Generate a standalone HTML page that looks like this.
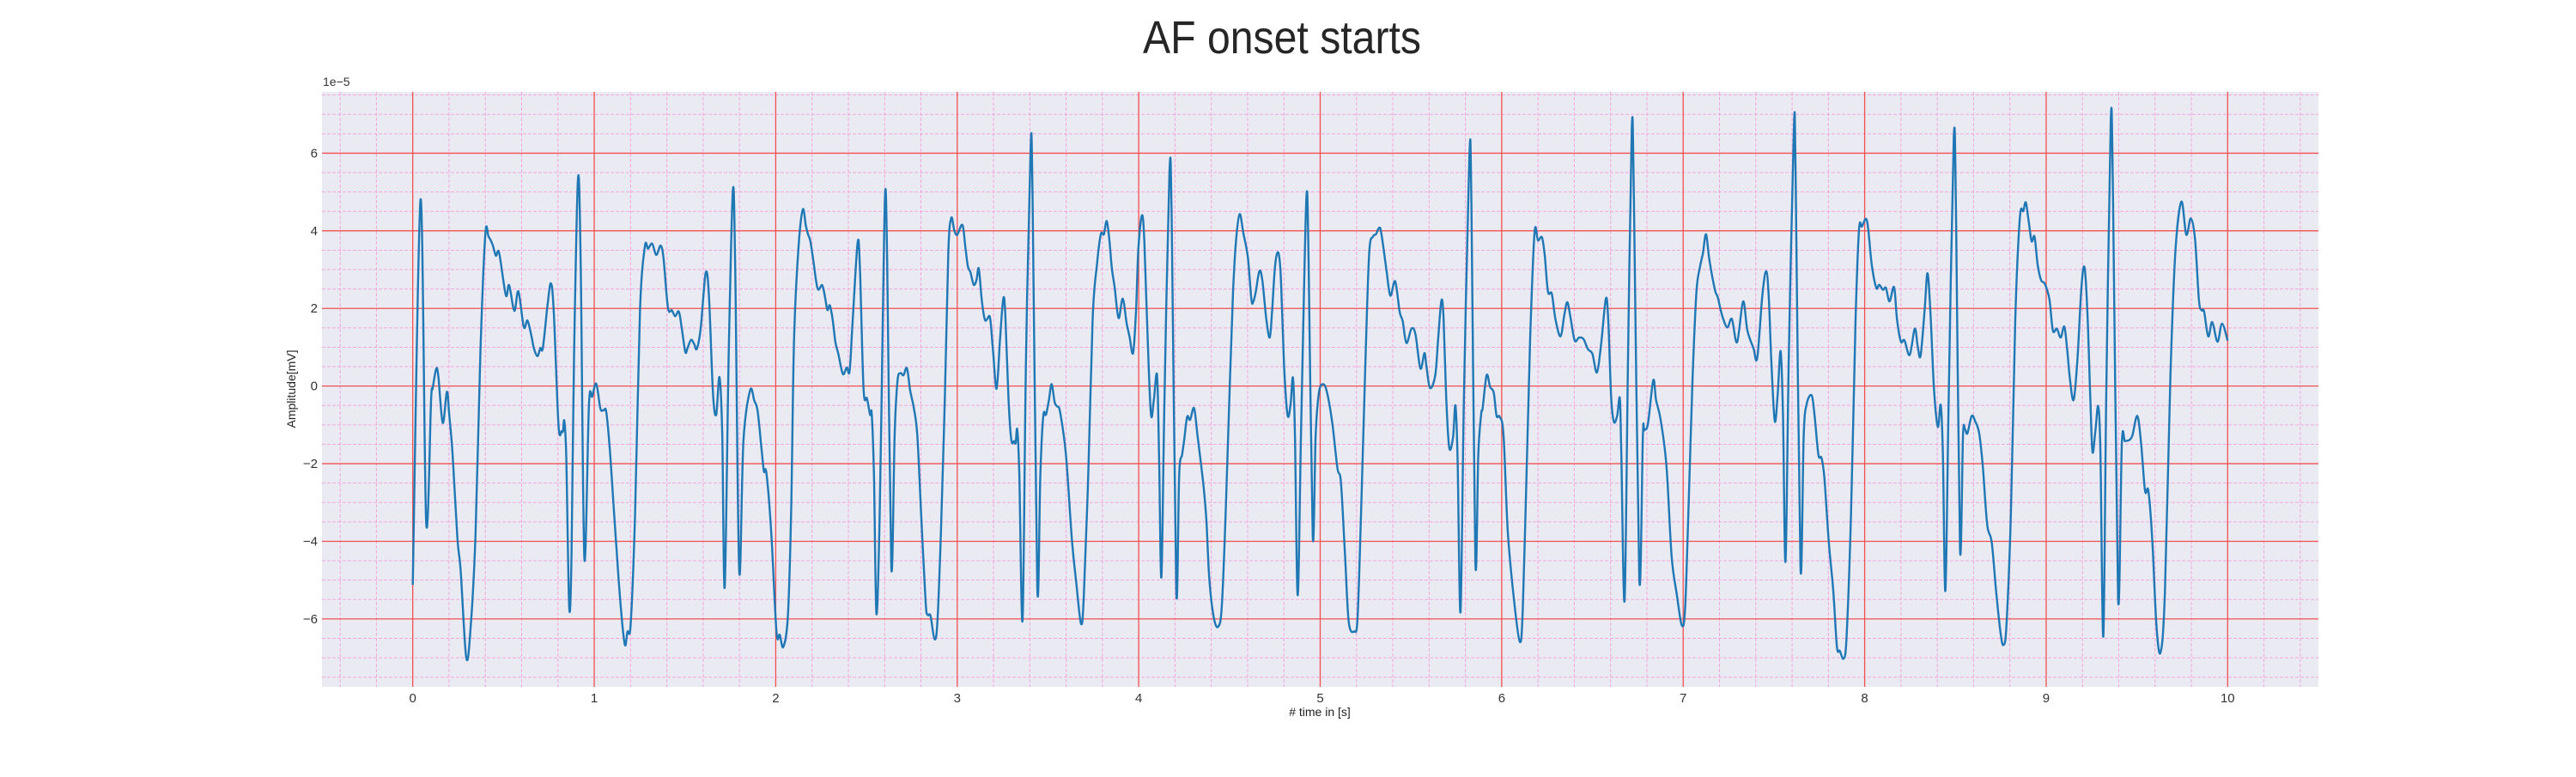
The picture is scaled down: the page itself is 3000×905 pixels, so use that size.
<!DOCTYPE html>
<html><head><meta charset="utf-8">
<style>
html,body{margin:0;padding:0;background:#fff;}
body{width:3000px;height:900px;overflow:hidden;font-family:"Liberation Sans",sans-serif;}
svg text{font-family:"Liberation Sans",sans-serif;}
</style></head>
<body>
<svg id="chart" width="3000" height="900" xmlns="http://www.w3.org/2000/svg">
<text x="1493" y="62" text-anchor="middle" font-size="54" textLength="324" lengthAdjust="spacingAndGlyphs" fill="#262626">AF onset starts</text>
<rect x="375" y="107" width="2325" height="693" fill="#eaeaf2"/>
<g id="grid"></g>
<g id="ticks"></g>
<g id="series"></g>
<text x="376" y="100" font-size="14" fill="#333">1e−5</text>
<text x="1537" y="834" text-anchor="middle" font-size="14" fill="#222"># time in [s]</text>
<text x="0" y="0" transform="translate(344,453) rotate(-90)" text-anchor="middle" font-size="14" fill="#222">Amplitude[mV]</text>
</svg>
<script>
const xTicks=[0,1,2,3,4,5,6,7,8,9,10];
const yTicks=[-6,-4,-2,0,2,4,6];
const times=[0,0.043,0.074,0.101,0.11,0.129,0.141,0.165,0.188,0.2,0.219,0.246,0.264,0.295,0.319,0.346,0.373,0.4,0.418,0.44,0.458,0.476,0.513,0.531,0.56,0.582,0.612,0.632,0.654,0.667,0.687,0.703,0.717,0.741,0.761,0.777,0.803,0.821,0.828,0.835,0.846,0.862,0.875,0.889,0.911,0.926,0.946,0.971,0.989,1.011,1.034,1.053,1.067,1.089,1.134,1.167,1.183,1.201,1.225,1.252,1.279,1.297,1.319,1.342,1.366,1.382,1.406,1.428,1.446,1.466,1.482,1.502,1.514,1.533,1.55,1.565,1.587,1.614,1.632,1.654,1.672,1.69,1.705,1.719,1.741,1.764,1.777,1.799,1.822,1.859,1.882,1.9,1.922,1.935,1.949,1.976,2.004,2.022,2.042,2.067,2.085,2.101,2.125,2.149,2.166,2.178,2.191,2.207,2.231,2.256,2.272,2.285,2.298,2.313,2.329,2.345,2.37,2.391,2.407,2.422,2.451,2.464,2.484,2.503,2.52,2.529,2.541,2.555,2.573,2.59,2.603,2.614,2.637,2.655,2.671,2.687,2.704,2.723,2.741,2.761,2.78,2.801,2.826,2.837,2.853,2.875,2.891,2.91,2.932,2.951,2.967,2.984,3.0,3.029,3.046,3.059,3.073,3.091,3.106,3.119,3.135,3.151,3.163,3.181,3.197,3.217,3.236,3.254,3.265,3.282,3.298,3.314,3.322,3.331,3.342,3.36,3.379,3.404,3.415,3.441,3.458,3.474,3.489,3.505,3.52,3.537,3.55,3.567,3.599,3.632,3.656,3.682,3.697,3.722,3.746,3.77,3.791,3.808,3.824,3.839,3.852,3.868,3.889,3.912,3.933,3.949,3.969,3.985,3.998,4.018,4.031,4.047,4.067,4.083,4.101,4.112,4.125,4.142,4.169,4.182,4.207,4.223,4.239,4.251,4.267,4.283,4.305,4.324,4.357,4.373,4.389,4.414,4.438,4.458,4.479,4.503,4.52,4.536,4.556,4.577,4.601,4.621,4.632,4.645,4.665,4.681,4.703,4.722,4.735,4.752,4.77,4.784,4.801,4.82,4.837,4.85,4.861,4.876,4.894,4.912,4.926,4.936,4.959,4.975,4.993,5.016,5.038,5.067,5.095,5.114,5.136,5.157,5.188,5.206,5.225,5.25,5.27,5.291,5.307,5.325,5.337,5.364,5.386,5.413,5.438,5.454,5.475,5.503,5.525,5.552,5.574,5.585,5.605,5.634,5.65,5.668,5.68,5.694,5.711,5.732,5.745,5.757,5.773,5.792,5.822,5.833,5.855,5.871,5.887,5.895,5.917,5.936,5.956,5.972,5.989,6.01,6.034,6.067,6.1,6.116,6.137,6.157,6.181,6.2,6.222,6.238,6.255,6.276,6.296,6.324,6.345,6.361,6.377,6.402,6.426,6.451,6.475,6.5,6.525,6.549,6.574,6.587,6.603,6.618,6.636,6.651,6.659,6.677,6.696,6.717,6.729,6.758,6.778,6.786,6.806,6.835,6.851,6.876,6.908,6.936,6.965,6.993,7.011,7.031,7.052,7.073,7.093,7.109,7.126,7.145,7.175,7.191,7.215,7.243,7.268,7.297,7.33,7.354,7.387,7.408,7.436,7.457,7.471,7.485,7.504,7.52,7.537,7.55,7.564,7.582,7.61,7.62,7.646,7.664,7.68,7.708,7.724,7.745,7.762,7.778,7.803,7.827,7.847,7.863,7.884,7.9,7.925,7.95,7.969,7.985,8.007,8.02,8.039,8.064,8.08,8.101,8.117,8.137,8.162,8.178,8.199,8.219,8.248,8.276,8.292,8.308,8.33,8.346,8.362,8.382,8.403,8.419,8.431,8.445,8.463,8.491,8.504,8.525,8.542,8.553,8.566,8.59,8.61,8.631,8.651,8.675,8.7,8.724,8.749,8.765,8.781,8.806,8.83,8.855,8.874,8.888,8.904,8.92,8.936,8.953,8.972,8.993,9.018,9.037,9.059,9.08,9.1,9.116,9.132,9.152,9.173,9.194,9.211,9.227,9.243,9.255,9.271,9.287,9.299,9.315,9.331,9.356,9.369,9.396,9.417,9.434,9.458,9.475,9.502,9.523,9.545,9.563,9.585,9.607,9.63,9.654,9.685,9.712,9.745,9.772,9.797,9.82,9.842,9.857,9.87,9.893,9.915,9.944,9.969,10.0];
const amps=[-5.12,4.81,-3.51,-0.38,-0.06,0.44,0.25,-0.95,-0.15,-0.69,-1.73,-3.92,-4.76,-7.0,-6.22,-3.82,0.88,3.9,3.85,3.64,3.36,3.43,2.34,2.6,1.94,2.44,1.52,1.69,1.29,0.98,0.77,0.98,0.98,2.02,2.65,1.92,-1.0,-1.16,-1.16,-0.9,-1.84,-5.7,-4.34,0.88,5.37,2.96,-4.45,-0.48,-0.27,0.06,-0.58,-0.62,-0.69,-1.84,-4.97,-6.62,-6.33,-6.12,-3.3,1.92,3.59,3.54,3.67,3.38,3.62,3.28,2.02,1.95,1.8,1.92,1.5,0.88,0.98,1.19,1.09,0.96,1.5,2.91,2.34,-0.17,-0.74,0.23,-1.21,-5.18,0.88,5.05,2.96,-4.76,-1.42,-0.11,-0.38,-0.64,-1.63,-2.2,-2.25,-3.82,-6.33,-6.41,-6.72,-5.91,-3.2,1.23,3.53,4.55,4.13,3.91,3.73,3.23,2.51,2.6,2.28,1.96,2.08,1.73,1.13,0.83,0.31,0.48,0.38,1.53,3.68,3.03,-0.07,-0.32,-0.74,-0.72,-2.27,-5.87,-3.27,1.73,5.01,3.23,-4.67,-1.27,0.13,0.33,0.28,0.46,-0.12,-0.57,-1.27,-3.27,-5.57,-5.89,-5.92,-6.52,-6.07,-3.77,-0.27,3.43,4.33,4.01,3.9,4.15,3.53,3.08,2.93,2.61,2.73,3.03,2.23,1.73,1.71,1.76,0.93,-0.07,1.23,2.26,1.83,-0.27,-1.39,-1.42,-1.47,-1.12,-2.27,-6.02,0.73,6.08,4.93,-5.17,-2.27,-0.77,-0.74,-0.37,0.05,-0.42,-0.52,-0.67,-1.77,-3.97,-5.07,-6.12,-5.47,-2.27,1.73,3.13,3.91,3.91,4.25,3.73,3.03,2.53,1.75,2.25,1.63,1.28,0.85,1.93,3.53,4.4,3.73,1.53,-0.7,-0.37,0.28,-1.77,-4.92,-0.27,5.48,4.23,-5.27,-2.27,-1.77,-1.37,-0.79,-0.87,-0.57,-1.27,-2.57,-3.47,-4.97,-5.97,-6.2,-5.67,-3.27,0.23,2.43,3.73,4.43,3.93,3.33,2.23,2.18,2.43,2.96,2.73,1.73,1.25,1.93,3.13,3.43,2.73,0.53,-0.75,-0.47,0.21,-1.27,-5.39,-1.27,2.73,5.01,3.23,-3.87,-1.27,-0.17,0.05,-0.17,-0.97,-2.12,-2.47,-4.27,-6.07,-6.32,-5.97,-3.27,0.73,3.43,3.85,3.91,4.08,3.93,3.03,2.33,2.7,1.91,1.68,1.11,1.48,1.33,0.45,0.85,0.53,-0.05,0.28,1.23,2.21,1.73,-0.27,-1.59,-1.32,-0.5,-1.87,-5.82,-0.27,5.9,4.73,-4.52,-1.77,-0.72,-0.57,0.28,-0.02,-0.17,-0.77,-0.79,-1.27,-3.77,-5.47,-6.59,-5.77,-2.27,1.23,3.95,3.75,3.83,3.33,2.43,2.38,1.73,1.28,1.83,2.16,1.83,1.18,1.25,1.21,0.95,0.83,0.35,1.13,2.25,1.73,-0.27,-0.92,-0.77,-0.32,-1.77,-5.52,0.73,6.68,4.73,-4.97,-1.27,-1.14,-0.97,0.15,-0.37,-0.87,-2.07,-4.37,-5.37,-6.17,-5.67,-2.9,0.23,2.43,3.08,3.43,3.91,3.23,2.48,2.28,1.81,1.51,1.73,1.13,2.18,1.43,0.98,0.73,2.33,2.96,2.33,0.73,-0.89,-0.27,0.9,-0.77,-4.52,0.73,6.68,5.23,-4.64,-1.27,-0.47,-0.24,-0.77,-1.77,-1.85,-2.37,-4.07,-5.27,-6.72,-6.82,-7.02,-6.47,-3.27,1.73,4.03,4.11,4.31,4.03,3.13,2.53,2.61,2.48,2.53,2.18,2.55,1.73,1.15,1.18,0.8,1.48,1.03,0.78,1.93,2.91,1.93,-0.07,-1.05,-0.49,-1.77,-5.27,-0.27,6.43,4.23,-4.19,-1.27,-1.12,-1.22,-0.77,-0.92,-1.22,-2.07,-3.57,-4.02,-5.27,-6.37,-6.67,-6.17,-3.27,1.73,4.33,4.51,4.73,4.23,3.73,3.85,3.13,2.73,2.63,2.23,1.43,1.48,1.25,1.53,0.93,0.13,-0.35,0.73,2.53,3.06,1.93,-0.27,-1.69,-1.17,-0.52,-1.77,-6.45,-0.27,6.86,4.73,-5.47,-1.47,-1.42,-1.39,-1.27,-0.77,-1.47,-2.7,-2.7,-4.0,-6.14,-6.87,-5.35,0.29,3.45,4.75,3.9,4.32,3.79,2.21,1.95,1.93,1.28,1.65,1.14,1.61,1.17];

const L=375,R=2700,T=107,B=800,XMIN=-0.5,XMAX=10.5,YMIN=-7.75,YMAX=7.58;
const sx=t=>L+(t-XMIN)/(XMAX-XMIN)*(R-L);
const sy=v=>B-(v-YMIN)/(YMAX-YMIN)*(B-T);
const NS='http://www.w3.org/2000/svg';
function mk(tag,attrs,parent){const e=document.createElementNS(NS,tag);for(const k in attrs)e.setAttribute(k,attrs[k]);parent.appendChild(e);return e;}
const grid=document.getElementById('grid'),ticks=document.getElementById('ticks'),series=document.getElementById('series');
for(let i=-2;i<=52;i++){const t=i*0.2;if(Math.abs(t-Math.round(t))<1e-6)continue;
 const l=mk('line',{x1:sx(t),x2:sx(t),y1:T,y2:B,stroke:'#f4a6dc','stroke-width':1,'stroke-dasharray':'4,2'},grid);
 
 }
for(let i=-15;i<=15;i++){const v=i*0.5;if(i%4===0)continue;
 const l=mk('line',{x1:L,x2:R,y1:sy(v),y2:sy(v),stroke:'#f4a6dc','stroke-width':1,'stroke-dasharray':'4,2'},grid);
 
 }
xTicks.forEach(t=>{const l=mk('line',{x1:sx(t),x2:sx(t),y1:T,y2:B,stroke:'#f25050','stroke-width':1.3},grid);
 
 
 const tx=mk('text',{x:sx(t),y:818,'text-anchor':'middle','font-size':15,fill:'#333'},ticks);tx.textContent=t;
 
 });
yTicks.forEach(v=>{const l=mk('line',{x1:L,x2:R,y1:sy(v),y2:sy(v),stroke:'#f25050','stroke-width':1.3},grid);
 
 
 const tx=mk('text',{x:370,y:sy(v)+5,'text-anchor':'end','font-size':15,fill:'#333'},ticks);tx.textContent=(v<0?'−':'')+Math.abs(v);
 
 });
const pts=times.map((t,i)=>[sx(t),sy(amps[i])]);
let d='M'+pts[0][0].toFixed(1)+','+pts[0][1].toFixed(1);
for(let i=0;i<pts.length-1;i++){const p0=pts[Math.max(0,i-1)],p1=pts[i],p2=pts[i+1],p3=pts[Math.min(pts.length-1,i+2)];
 const c1=[p1[0]+(p2[0]-p0[0])/6,p1[1]+(p2[1]-p0[1])/6],c2=[p2[0]-(p3[0]-p1[0])/6,p2[1]-(p3[1]-p1[1])/6];
 d+='C'+c1[0].toFixed(1)+','+c1[1].toFixed(1)+' '+c2[0].toFixed(1)+','+c2[1].toFixed(1)+' '+p2[0].toFixed(1)+','+p2[1].toFixed(1);}
const path=mk('path',{d:d,fill:'none',stroke:'#1f77b4','stroke-width':2.4,'stroke-linejoin':'round'},series);


</script>
</body></html>
